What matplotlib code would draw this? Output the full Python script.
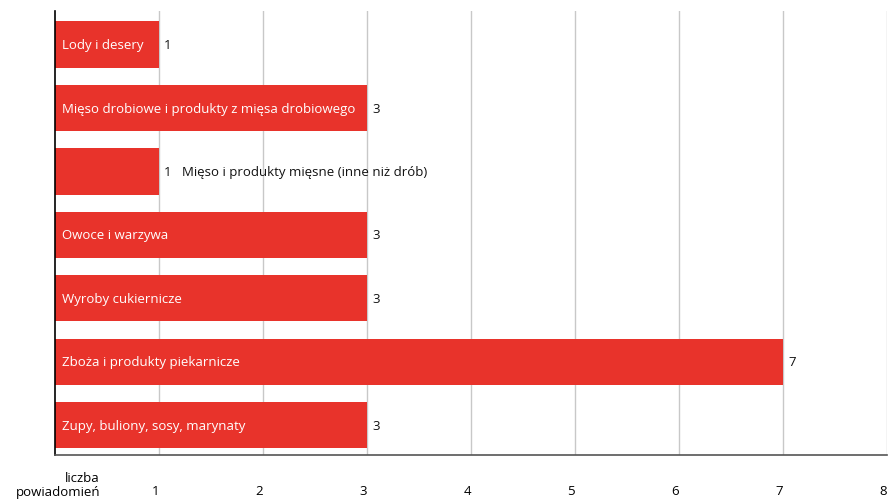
import numpy as np
from matplotlib import pyplot as plt

plt.rcParams['font.family'] = ['Open Sans', 'DejaVu Sans']

categories = [
    "Lody i desery",
    "Mięso drobiowe i produkty z mięsa drobiowego",
    "Mięso i produkty mięsne (inne niż drób)",
    "Owoce i warzywa",
    "Wyroby cukiernicze",
    "Zboża i produkty piekarnicze",
    "Zupy, buliony, sosy, marynaty",
]
counts = [1, 3, 1, 3, 3, 7, 3]
inside = [True, True, False, True, True, True, True]
ticks = [1, 2, 3, 4, 5, 6, 7, 8]

red = "#e8332b"

fig = plt.figure(figsize=(8.88, 5.02), dpi=100)
ax = fig.add_axes([55 / 888, 1 - 456 / 502, 832 / 888, 444 / 502])

y = np.arange(len(categories))
ax.barh(y, counts, height=0.73, color=red, zorder=2)
ax.set_xlim(0, 8)
ax.set_ylim(len(categories) - 0.53, -0.53)

for i, (name, v, ins) in enumerate(zip(categories, counts, inside)):
    ax.annotate(str(v), (v, i), xytext=(3.8, 0), textcoords="offset points",
                va="center", ha="left", fontsize=9.5, color="#111111")
    if ins:
        ax.annotate(name, (0, i), xytext=(5.3, 0), textcoords="offset points",
                    va="center", ha="left", fontsize=9.5, color="white")
    else:
        ax.annotate(name, (v, i), xytext=(16.5, 0), textcoords="offset points",
                    va="center", ha="left", fontsize=9.5, color="#111111")

for t in ticks:
    ax.axvline(t, color="#c8c8c8", lw=1, zorder=1)

ax.set_xticks(ticks)
ax.set_xticklabels([str(t) for t in ticks], fontsize=9.5, ha="right")
ax.tick_params(axis="x", length=0, pad=21)
ax.set_yticks([])
for s in ["top", "right"]:
    ax.spines[s].set_visible(False)
ax.spines["left"].set_color("black")
ax.spines["left"].set_linewidth(1.2)
ax.spines["bottom"].set_color("#555555")
ax.spines["bottom"].set_linewidth(1.2)

fig.text(100 / 888, 1 - 486 / 502, "liczba\npowiadomień", ha="right", va="center",
         fontsize=9.5, linespacing=1.1)

fig.savefig("out.png", dpi=100)
